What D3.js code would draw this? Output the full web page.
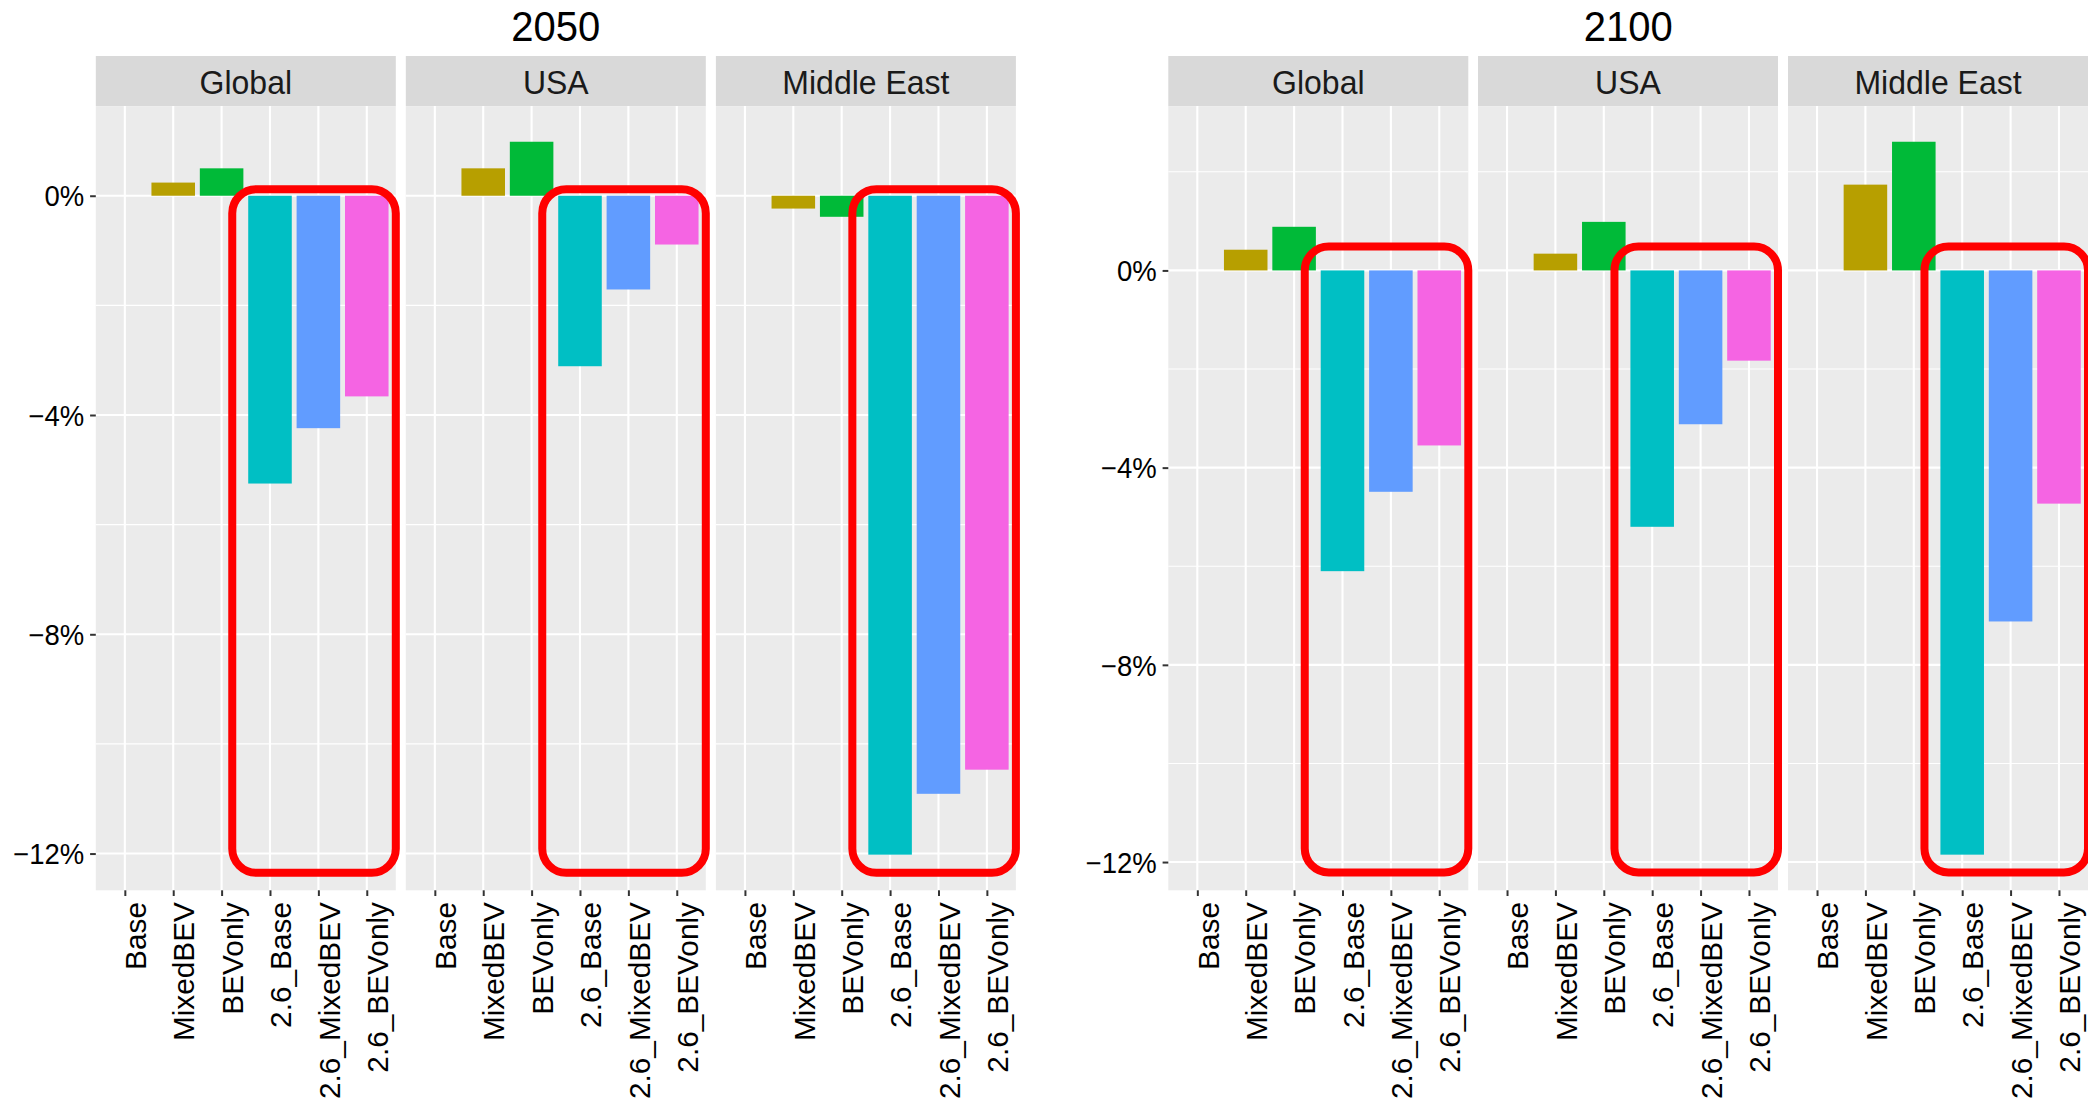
<!DOCTYPE html>
<html>
<head>
<meta charset="utf-8">
<script src="https://cdn.jsdelivr.net/npm/d3@7"></script>
<style>
  html, body { margin: 0; padding: 0; background: #ffffff; }
  svg { display: block; }
  text { font-family: "Liberation Sans", Arial, Helvetica, sans-serif; }
</style>
</head>
<body>
<svg id="chart" width="2088" height="1111"></svg>
<script>
// ---------------- data ----------------
const years = ["2050", "2100"];
const regions = ["Global", "USA", "Middle East"];
const scenarios = ["Base", "MixedBEV", "BEVonly", "2.6_Base", "2.6_MixedBEV", "2.6_BEVonly"];
const scenarioColors = ["#F8766D", "#B79F00", "#00BA38", "#00BFC4", "#619CFF", "#F564E3"];

// values in percent, order = scenarios
const v2050Global     = [0, 0.24, 0.50, -5.25, -4.24, -3.66];
const v2050USA        = [0, 0.50, 0.985, -3.11, -1.71, -0.89];
const v2050MiddleEast = [0, -0.234, -0.384, -12.02, -10.91, -10.47];
const v2100Global     = [0, 0.42, 0.885, -6.10, -4.49, -3.55];
const v2100USA        = [0, 0.34, 0.985, -5.20, -3.12, -1.83];
const v2100MiddleEast = [0, 1.74, 2.61, -11.85, -7.12, -4.73];

const yMajorTicks = [0, -4, -8, -12];
const yMinorTicks = [2, -2, -6, -10];

// highlight boxes (annotation): scenario-index span and value span per year
const boxIndexSpan = [2.22, 5.60];
const box2050Values = [0.12, -12.35];
const box2100Values = [0.485, -12.21];

// ---------------- layout ----------------
const svg = d3.select("#chart");
const stripTop = 56, panelTop = 106.1, panelBottom = 890.3, panelW = 300;
const halves = [
  { year: "2050", x0s: [95.8, 405.8, 715.9], vals: [v2050Global, v2050USA, v2050MiddleEast], box: box2050Values },
  { year: "2100", x0s: [1168.3, 1478, 1788], vals: [v2100Global, v2100USA, v2100MiddleEast], box: box2100Values }
];
const TXT_STRETCH = 1.05;
const minus = s => s.replace("-", "\u2212");

halves.forEach((half, hi) => {
  const all = half.vals.flat();
  const lo = d3.min(all), hiV = d3.max(all);
  const pad = (hiV - lo) * 0.05;
  const y = d3.scaleLinear().domain([lo - pad, hiV + pad]).range([panelBottom, panelTop]);
  const dom = y.domain();

  // title
  const cx = (half.x0s[0] + half.x0s[2] + panelW) / 2;
  svg.append("text")
    .attr("transform", `translate(${cx},41) scale(1,${TXT_STRETCH})`)
    .attr("text-anchor", "middle")
    .attr("font-size", 40)
    .attr("fill", "#000")
    .text(half.year);

  half.x0s.forEach((x0, pi) => {
    const x = d3.scalePoint().domain(scenarios).range([x0, x0 + panelW]).padding(0.6);
    const step = x.step();
    const bw = step * 0.9;
    const g = svg.append("g");

    // strip
    g.append("rect").attr("x", x0).attr("y", stripTop).attr("width", panelW)
      .attr("height", panelTop - stripTop).attr("fill", "#D9D9D9");
    g.append("text")
      .attr("transform", `translate(${x0 + panelW / 2},93.8) scale(1,${TXT_STRETCH})`)
      .attr("text-anchor", "middle").attr("font-size", 32).attr("fill", "#1A1A1A")
      .text(regions[pi]);

    // panel background
    g.append("rect").attr("x", x0).attr("y", panelTop).attr("width", panelW)
      .attr("height", panelBottom - panelTop).attr("fill", "#EBEBEB");

    // minor grid
    g.selectAll(".minor").data(yMinorTicks.filter(t => t > dom[0] && t < dom[1])).enter()
      .append("line").attr("x1", x0).attr("x2", x0 + panelW)
      .attr("y1", d => y(d)).attr("y2", d => y(d))
      .attr("stroke", "#fff").attr("stroke-width", 1.1);
    // major grid horizontal
    g.selectAll(".majorh").data(yMajorTicks).enter()
      .append("line").attr("x1", x0).attr("x2", x0 + panelW)
      .attr("y1", d => y(d)).attr("y2", d => y(d))
      .attr("stroke", "#fff").attr("stroke-width", 2.1);
    // major grid vertical
    g.selectAll(".majorv").data(scenarios).enter()
      .append("line").attr("y1", panelTop).attr("y2", panelBottom)
      .attr("x1", d => x(d)).attr("x2", d => x(d))
      .attr("stroke", "#fff").attr("stroke-width", 2.1);

    // bars
    const vals = half.vals[pi];
    g.selectAll(".bar").data(scenarios.map((s, i) => ({ s, v: vals[i], c: scenarioColors[i] })))
      .enter().append("rect")
      .attr("x", d => x(d.s) - bw / 2)
      .attr("width", bw)
      .attr("y", d => y(Math.max(0, d.v)))
      .attr("height", d => Math.abs(y(d.v) - y(0)))
      .attr("fill", d => d.c);

    // x axis
    const xa = g.append("g").attr("transform", `translate(0,${panelBottom})`)
      .call(d3.axisBottom(x).tickSize(5.7).tickSizeOuter(0));
    xa.select(".domain").remove();
    xa.selectAll(".tick line").attr("stroke", "#333333").attr("stroke-width", 2);
    xa.selectAll(".tick text")
      .attr("transform", `translate(20.7,${902 - panelBottom}) rotate(-90)`)
      .attr("x", 0).attr("y", 0).attr("dy", 0)
      .attr("text-anchor", "end")
      .attr("font-size", 29.8)
      .attr("font-family", "Liberation Sans, Arial, sans-serif")
      .attr("fill", "#000");

    // y axis on first panel
    if (pi === 0) {
      const ya = g.append("g").attr("transform", `translate(${x0},0)`)
        .call(d3.axisLeft(y).tickValues(yMajorTicks).tickSize(5.7).tickPadding(5.8)
          .tickFormat(d => minus(d + "%")));
      ya.select(".domain").remove();
      ya.selectAll(".tick line").attr("stroke", "#333333").attr("stroke-width", 2);
      ya.selectAll(".tick text")
        .attr("dy", 0)
        .attr("y", 0)
        .attr("transform", `translate(0,${10.2}) scale(1,${TXT_STRETCH})`)
        .attr("font-size", 27.5)
        .attr("font-family", "Liberation Sans, Arial, sans-serif")
        .attr("fill", "#000");
    }

    // highlight box
    const idx = d3.scaleLinear().domain([0, scenarios.length - 1]).range([x(scenarios[0]), x(scenarios[scenarios.length - 1])]);
    const bx1 = idx(boxIndexSpan[0]), bx2 = idx(boxIndexSpan[1]);
    const by1 = y(half.box[0]), by2 = y(half.box[1]);
    svg.append("rect")
      .attr("x", bx1).attr("y", by1)
      .attr("width", bx2 - bx1).attr("height", by2 - by1)
      .attr("rx", 24).attr("ry", 24)
      .attr("fill", "none").attr("stroke", "#FF0000").attr("stroke-width", 8);
  });
});
</script>
</body>
</html>
